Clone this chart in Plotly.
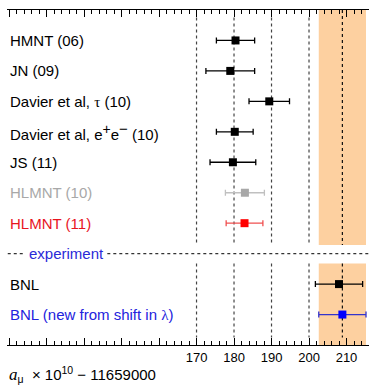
import plotly.graph_objects as go

# ---- data ----
labels = ["HMNT (06)", "JN (09)",
          "Davier et al, <span style=\"font-family:'Liberation Serif'\">τ</span> (10)",
          "Davier et al, e<sup><span style=\"font-size:14px\">+</span></sup>e<sup><span style=\"font-size:15px\">−</span></sup> (10)",
          "JS (11)",
          "HLMNT (10)", "HLMNT (11)", "BNL",
          "BNL (new from shift in <span style=\"font-family:'Liberation Serif'\">λ</span>)"]
rows = [0, 1, 2, 3, 4, 5, 6, 8, 9]
values = [180.4, 179.0, 189.4, 180.2, 179.7, 182.9, 182.8, 208.0, 208.9]
errors = [5.1, 6.5, 5.4, 4.9, 6.1, 5.2, 4.9, 6.3, 6.3]
label_colors = ["black", "black", "black", "black", "black", "#a8a8a8", "#e8141e", "black", "#2222dd"]
marker_colors = ["black", "black", "black", "black", "black", "#a8a8a8", "#ff0000", "black", "#0000ff"]
err_colors = ["black", "black", "black", "black", "black", "#c0c0c0", "#f05050", "black", "#3333cc"]

band_center = 208.9
band_err = 6.3
grid_vals = [170, 180, 190, 200]
labeled_ticks = [170, 180, 190, 200, 210]
labeled_text = ["170", "180", "190", "200", "210"]
unlabeled_ticks = [120, 130, 140, 150, 160]
x_range = [119.45, 216.0]

fig = go.Figure()

# bands
for y0, y1 in [(-1, 6.72), (7.32, 10)]:
    fig.add_shape(type="rect", xref="x", yref="y", x0=band_center - band_err, x1=band_center + band_err,
                  y0=y0, y1=y1, fillcolor="#fdd0a0", line_width=0, layer="below")
# grid lines
for g in grid_vals:
    for y0, y1 in [(-0.75, 6.72), (7.32, 9.75)]:
        fig.add_shape(type="line", xref="x", yref="y", x0=g, x1=g, y0=y0, y1=y1,
                      line=dict(color="#444444", width=1.2, dash="dot"), layer="below")
for y0, y1 in [(-1, 6.72), (7.32, 9.75)]:
    fig.add_shape(type="line", xref="x", yref="y", x0=band_center, x1=band_center, y0=y0, y1=y1,
                  line=dict(color="#111111", width=1.2, dash="dot"), layer="below")
# experiment separator
for x0, x1 in [(x_range[0] + 0.2, 123.7), (146.2, x_range[1])]:
    fig.add_shape(type="line", xref="x", yref="y", x0=x0, x1=x1, y0=7, y1=7,
                  line=dict(color="#333333", width=1.2, dash="dot"), layer="below")

for r, v, e, mc, ec in zip(rows, values, errors, marker_colors, err_colors):
    fig.add_trace(go.Scatter(x=[v], y=[r], mode="markers",
                             marker=dict(symbol="square", size=8, color=mc),
                             error_x=dict(type="data", array=[e], color=ec, thickness=1.3, width=3),
                             showlegend=False))
# invisible trace to carry the secondary tick axis
fig.add_trace(go.Scatter(x=[x_range[0]], y=[-5], xaxis="x2", mode="markers",
                         marker=dict(opacity=0), showlegend=False, hoverinfo="skip"))

for r, lab, c in zip(rows, labels, label_colors):
    fig.add_annotation(x=x_range[0] + 0.15, y=r, xref="x", yref="y", text=lab, showarrow=False,
                       xanchor="left", yanchor="middle", font=dict(size=15, color=c))
fig.add_annotation(x=124.8, y=7, xref="x", yref="y", text="experiment", showarrow=False,
                   xanchor="left", yanchor="middle", font=dict(size=15, color="#2a2ad8"))

fig.add_annotation(x=0.0, y=-0.088, xref="paper", yref="paper", showarrow=False,
                   xanchor="left", yanchor="middle",
                   text="<span style=\"font-family:'Liberation Serif';font-size:17px\"><i>a</i></span><sub>μ</sub>  × 10<sup>10</sup> − 11659000",
                   font=dict(size=15, color="black"))

fig.update_layout(
    xaxis=dict(range=x_range, showgrid=False, zeroline=False, showline=True, linecolor="black",
               linewidth=1, mirror="ticks", ticks="inside", ticklen=7, tickcolor="black",
               tickmode="array", tickvals=labeled_ticks, ticktext=labeled_text,
               tickfont=dict(size=13, color="black"),
               minor=dict(tickmode="array",
                          tickvals=[t + d for t in unlabeled_ticks + labeled_ticks for d in (2, 4, 6, 8)
                                    if t + d < x_range[1]],
                          ticks="inside", ticklen=4, tickcolor="black", showgrid=False)),
    xaxis2=dict(range=x_range, overlaying="x", anchor="y", side="bottom", showgrid=False,
                zeroline=False, showline=False, mirror="ticks", ticks="inside", ticklen=7,
                tickcolor="black", tickmode="array", tickvals=unlabeled_ticks, showticklabels=False),
    yaxis=dict(range=[10, -1], visible=False),
    width=369, height=385, margin=dict(l=7, r=0, t=10, b=40),
    plot_bgcolor="white", paper_bgcolor="white",
    font=dict(family="Liberation Sans, Arial, sans-serif"))

fig.write_html("out.html")
